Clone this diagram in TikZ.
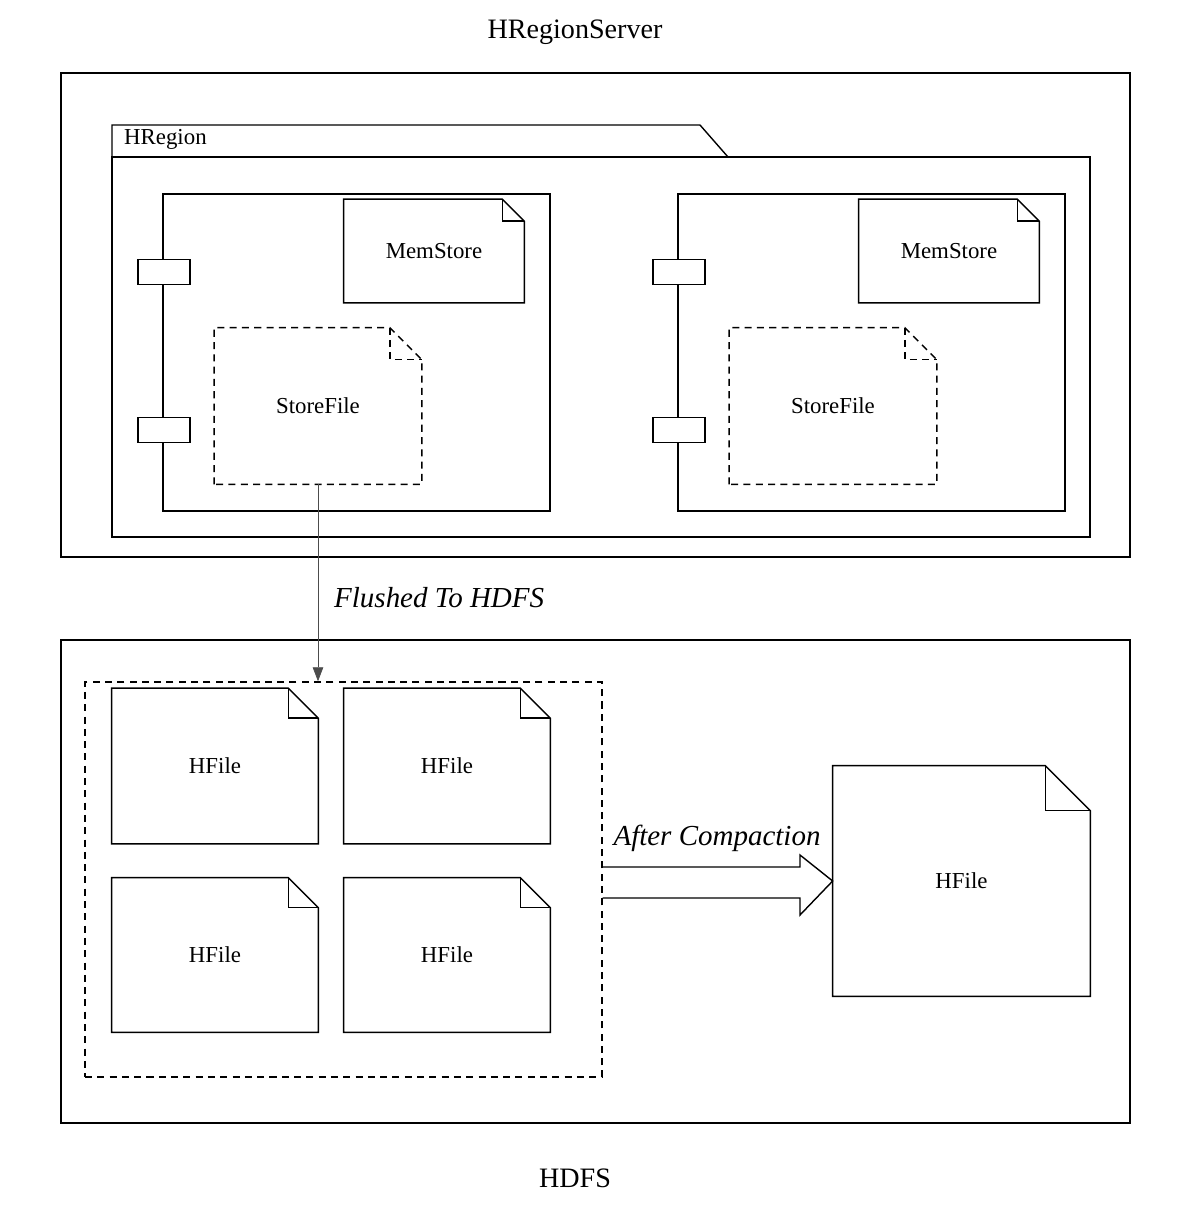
\documentclass[tikz,border=0pt]{standalone}
\usepackage{fontspec}
\setmainfont{Liberation Serif}
\usetikzlibrary{positioning, arrows.meta, shapes}
% note shape: #1 name, #2 centre, #3 width, #4 height, #5 fold, #6 line style, #7 text
\newcommand{\docnote}[7]{%
    \node [box, minimum width=#3*0.02cm, minimum height=#4*0.02cm] (#1) at (#2) {#7};
    \draw [#6] (#1.south west) -- (#1.north west) -- ([xshift=-#5*0.02cm]#1.north east)
        -- ([yshift=-#5*0.02cm]#1.north east) -- (#1.south east) -- cycle;
    \draw [#6] ([xshift=-#5*0.02cm]#1.north east) -- ([xshift=-#5*0.02cm,yshift=-#5*0.02cm]#1.north east)
        -- ([yshift=-#5*0.02cm]#1.north east);
}
\begin{document}
\begin{tikzpicture}[
    x=0.02cm, y=-0.02cm,
    font=\fontsize{13}{15}\selectfont,
    >={Triangle[length=8pt, width=6pt]},
    % Styles
    box/.style={% invisible placeholder for notes
        rectangle,
        inner sep=0pt,
    },
    frame/.style={% For the main boxes
        draw,
        thick,
    },
    solidline/.style={
        thick,
    },
    dashedline/.style={
        thick,
        dash pattern=on 4pt off 3pt,
    },
    port/.style={% For component ports
        rectangle,
        draw,
        thick,
        fill=white,
        minimum width=52*0.02cm,
        minimum height=25*0.02cm,
    },
    title/.style={
        font=\fontsize{16}{19}\selectfont
    },
    mylabel/.style={
        font=\fontsize{16.5}{20}\selectfont\itshape
    },
    ]
    \useasboundingbox (0,0) rectangle (1200,1221);

    % Titles
    \node [title] (server) at (575,32) {HRegionServer};
    \node [title] (hdfs) at (575,1178) {HDFS};

    % Outer frames
    \draw [frame] (61,73) rectangle (1130,557);
    \draw [frame] (61,640) rectangle (1130,1123);

    % HRegion folder
    \draw [frame] (112,157) -- (112,125) -- (700,125) -- (728,157);
    \draw [frame] (112,157) rectangle (1090,537);
    \node [anchor=west] (hregion) at (118,139) {HRegion};

    % Components
    \foreach \dx/\n in {0/1, 515/2} {
        \draw [frame] (163+\dx,194) rectangle (550+\dx,511);
        \node [port] (porta\n) at (164+\dx,272) {};
        \node [port] (portb\n) at (164+\dx,430) {};
    }

    % Notes
    \docnote{mem1}{434,251}{180}{103}{22}{solidline}{MemStore}
    \docnote{mem2}{949,251}{180}{103}{22}{solidline}{MemStore}
    \docnote{store1}{318,406}{207}{156}{32}{dashedline}{StoreFile}
    \docnote{store2}{833,406}{207}{156}{32}{dashedline}{StoreFile}

    % HFiles
    \node [draw, dashedline, minimum width=517*0.02cm, minimum height=395*0.02cm] (group) at (343.5,879.5) {};
    \docnote{hfile1}{215,766}{206}{155}{30}{solidline}{HFile}
    \docnote{hfile2}{447,766}{206}{155}{30}{solidline}{HFile}
    \docnote{hfile3}{215,955}{206}{154}{30}{solidline}{HFile}
    \docnote{hfile4}{447,955}{206}{154}{30}{solidline}{HFile}
    \docnote{hfile5}{961.5,881}{257}{230}{45}{solidline}{HFile}

    % Connect all
    \draw [->, gray!60!black] (store1.south) -- (group.north -| store1.south);
    \node [mylabel, anchor=west] (flushed) at (328,598) {Flushed To HDFS};

    \coordinate (tip) at (hfile5.west);
    \draw [solidline] (group.east |- 0,867) -- (800,867) -- (800,855) -- (tip)
        -- (800,915) -- (800,898) -- (group.east |- 0,898);
    \node [mylabel] (compaction) at (717,838) {After Compaction};
\end{tikzpicture}
\end{document}
